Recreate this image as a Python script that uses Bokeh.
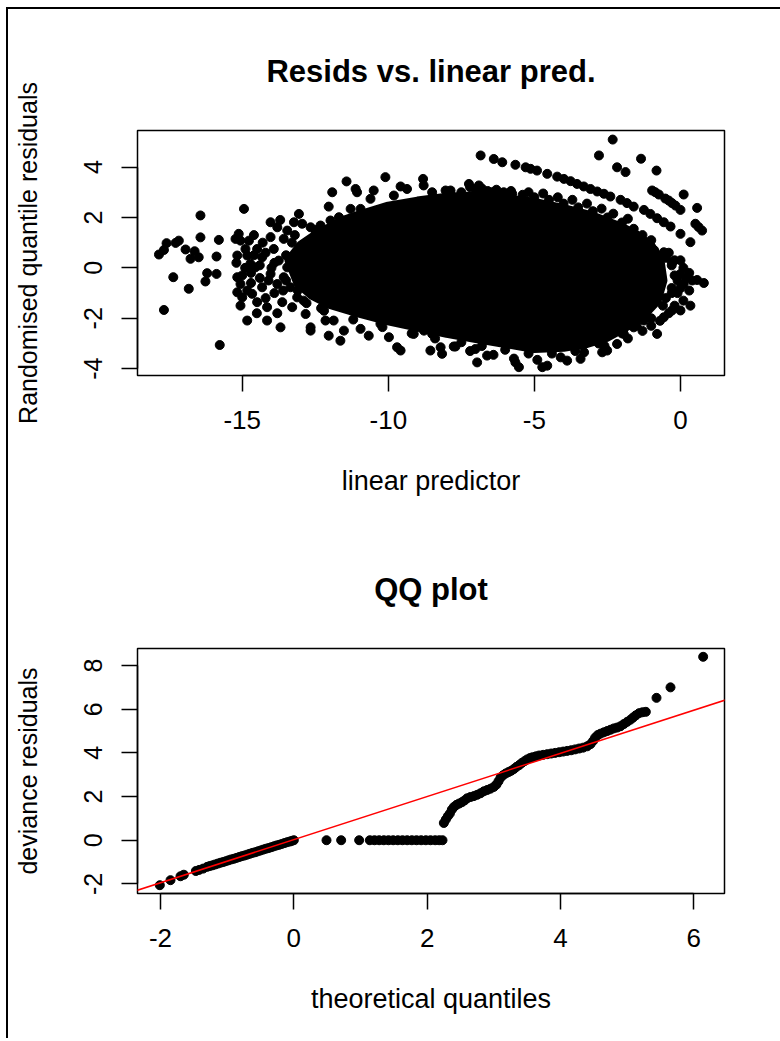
from bokeh.plotting import figure
from bokeh.models import Range1d, FixedTicker, Slope, PrintfTickFormatter, Div
from bokeh.layouts import column
from bokeh.embed import file_html
from bokeh.resources import INLINE

FONT = "Liberation Sans"

# ---------------- Top panel: residuals vs linear predictor ----------------
# dense core of the point cloud (outline of the solid black region)
core_x = [-13.4, -13.0, -12.5, -12.0, -11.5, -11.0, -10.0, -9.0, -8.0, -7.0, -6.0, -5.0,
          -4.0, -3.0, -2.0, -1.5, -1.0, -0.7, -0.6, -0.8, -1.2, -1.8, -2.5, -3.2, -4.0,
          -5.0, -6.0, -7.0, -8.0, -9.0, -10.0, -11.0, -12.0, -12.6, -13.1]
core_y = [0.3, 0.9, 1.3, 1.6, 1.9, 2.1, 2.45, 2.65, 2.8, 2.85, 2.75, 2.6,
          2.35, 2.05, 1.6, 1.3, 0.85, 0.3, -0.5, -1.3, -1.8, -2.3, -2.75, -3.0, -3.15,
          -3.2, -3.0, -2.8, -2.6, -2.35, -2.1, -1.8, -1.45, -1.1, -0.6]

# individual points outside / on the edge of the core
pts_x = [
    -17.85, -17.68, -17.59, -17.28, -17.17, -16.94, -16.77, -16.63, -16.49, -16.43, -16.43,
    -15.80, -15.88, -17.36, -16.83, -16.26, -16.20, -15.88, -17.68, -15.77,
    -14.94, -15.23, -15.12, -15.06, -15.17, -14.89, -14.77, -14.83, -14.72, -14.49, -14.32,
    -14.55, -15.17, -15.06, -15.17, -15.00, -15.06, -14.83, -14.66, -14.49, -14.32, -14.15,
    -14.83, -14.15, -13.69, -14.03, -13.80, -14.03, -13.58, -13.46, -13.23, -13.06, -12.95,
    -13.92, -13.75, -13.46, -14.03, -13.80, -13.58, -13.35, -13.29, -13.63,
    -14.60, -14.40, -14.20, -14.10, -13.90, -14.40, -14.70, -14.90, -14.30, -14.60, -13.70,
    -13.90, -13.60, -14.20, -14.00, -13.80, -14.50, -15.20, -15.00, -14.70,
    -12.66, -12.32, -12.04, -11.92, -11.98, -11.69, -11.43, -11.29, -11.12, -11.07, -10.95,
    -10.61, -10.50, -10.10, -9.81, -9.58, -9.36, -9.24, -8.81, -8.79, -8.50, -8.04, -7.87,
    -13.12, -12.83, -12.66, -12.66, -12.15, -12.04, -11.87, -11.64, -11.52, -10.95, -10.67,
    -10.27, -9.98, -9.70, -9.58, -9.13, -8.78, -8.50, -8.56, -8.21, -8.16, -7.70,
    -6.84, -6.39, -6.10, -5.65, -5.30, -5.13, -4.91, -4.56, -4.22, -3.99, -3.76, -3.54,
    -3.31, -3.08, -2.85, -2.62, -2.40, -2.05, -1.83, -1.60, -1.25, -1.03, -0.80, -0.57,
    -0.34, 0.00, 0.34,
    -2.79, -2.32, -2.17, -1.88, -1.35, -0.82, -0.97, -0.86, -0.74, -0.52, -0.40, -0.29,
    -0.17, 0.00, 0.11, 0.57, 0.51, 0.62, 0.74,
    -1.03, -0.57, -0.29, 0.00, 0.11, 0.57, 0.80, 0.34, 0.00, -0.29, -0.57, -0.80, -1.25,
    -1.60, -1.94, -2.17, -2.51, -2.68, -3.42, -3.88, -4.56, -4.73, -5.53, -5.65, -6.62,
    -6.96, -7.02, -7.76,
    -7.24, -6.90, -6.45, -6.05, -5.76, -7.64, -7.87,
    -7.50, -7.00, -6.60, -6.20, -5.40, -5.00, -4.50, -4.00, -3.50, -3.00, -2.50, -2.00,
    -1.60, -1.30, -1.00,
    -1.00, -1.50, -2.00, -2.80, -3.60, -4.40, -5.20, -6.00, -6.80, -7.50, -8.40, -9.20,
    -10.20, -11.20, -12.20, -12.90,
    -0.50, -0.30, -0.20, -0.30, -0.50, -0.10, 0.20, 0.40, -0.60, 0.00,
    -1.20, -0.90, -0.60, -0.40, -0.20, 0.10, -0.10, 0.30, 0.10, -0.20, -0.40, -0.70,
    -1.00, -0.30, 0.00, 0.30,
    -7.20, -6.80, -6.30, -5.80, -5.20, -4.70, -4.20, -3.70, -3.20, -2.70, -2.30, -1.80,
    -7.20, -6.40, -5.70, -4.90, -4.10, -3.30, -2.60, -1.80, -1.30,
    -13.30, -13.10, -12.80, -12.50, -12.30, -13.50, -13.50, -13.20,
]
pts_y = [
    0.53, 0.71, 0.98, 0.99, 1.08, 0.73, 0.36, 0.66, 0.42, 2.08, 1.21,
    1.11, 0.45, -0.37, -0.83, -0.54, -0.21, -0.24, -1.67, -3.06,
    2.34, 1.15, 1.35, 1.08, 0.49, 0.75, 1.08, 0.49, 0.16, 0.75, 0.42,
    0.02, -0.37, -0.64, -0.97, -1.17, -1.50, -0.90, -1.03, -1.36, -0.77, -1.56,
    -2.09, -2.09, -2.36, 1.81, 1.61, 1.22, 1.15, 1.48, 1.81, 2.14, 1.75,
    0.75, 0.29, 0.02, -0.24, -0.64, -0.37, -0.77, -1.56, -1.36,
    0.50, 0.10, 0.60, -0.50, -1.00, -0.40, -0.60, 0.00, 1.00, 1.30, 1.90,
    0.20, -0.90, -1.20, 0.00, -1.80, -1.80, 0.20, -0.30, -0.20,
    1.61, 1.68, 2.43, 3.00, 1.88, 2.01, 3.43, 2.34, 3.13, 3.00, 2.34,
    2.74, 3.07, 3.60, 2.87, 3.23, 3.13, 2.34, 3.53, 3.27, 3.00, 3.07, 2.94,
    -1.17, -1.83, -2.36, -2.49, -2.09, -2.69, -2.09, -2.89, -2.49, -2.42, -2.69,
    -2.22, -2.75, -3.15, -3.28, -2.62, -2.49, -2.62, -3.28, -3.15, -3.41, -3.12,
    4.46, 4.32, 4.19, 4.09, 3.99, 3.93, 3.86, 3.73, 3.62, 3.53, 3.44, 3.33,
    3.23, 3.13, 3.03, 2.94, 2.83, 2.70, 2.57, 2.43, 2.30, 2.14, 1.97, 1.81,
    1.64, 1.35, 1.02,
    4.46, 5.09, 3.99, 3.80, 4.33, 3.86, 3.07, 3.00, 2.91, 2.75, 2.67, 2.57,
    2.47, 2.30, 2.91, 2.38, 1.75, 1.62, 1.48,
    0.88, 0.62, 0.22, -0.24, -0.64, -0.48, -0.60, -1.50, -1.69, -1.69, -1.96, -2.62, -2.09,
    -2.36, -2.62, -3.02, -3.28, -3.35, -3.61, -3.68, -3.88, -3.94, -3.94, -3.75, -3.48,
    -3.75, -3.22, -3.12,
    3.33, 3.27, 3.00, 3.00, 2.94, 2.74, 3.07,
    3.00, 3.10, 3.05, 2.95, 2.90, 2.80, 2.70, 2.55, 2.40, 2.25, 2.00, 1.80,
    1.55, 1.30, 1.10,
    -2.00, -2.30, -2.60, -3.00, -3.30, -3.40, -3.40, -3.25, -3.10, -2.95, -2.80, -2.60,
    -2.35, -2.05, -1.70, -1.30,
    0.40, 0.10, -0.30, -0.80, -1.20, -1.00, -0.40, -0.50, -1.50, -0.80,
    1.00, 0.70, 0.50, 0.60, 0.30, 0.00, -0.50, -0.90, -1.30, -1.50, -1.80, -2.10,
    -2.30, -1.00, 0.30, -0.20,
    3.20, 3.15, 3.10, 3.05, 3.00, 2.95, 2.80, 2.70, 2.55, 2.35, 2.15, 1.95,
    -3.30, -3.45, -3.60, -3.65, -3.55, -3.35, -3.10, -2.80, -2.50,
    1.00, -0.90, -1.40, 1.50, -1.60, 0.50, -0.50, 1.30,
]

top_xticks = [-15, -10, -5, 0]
top_yticks = [-4, -2, 0, 2, 4]

# ---------------- Bottom panel: QQ plot ----------------
qq_x = [-2.01, -1.85, -1.70, -1.65, -1.47, -1.42, -1.36,
        -1.30, -1.26, -1.22, -1.18, -1.14, -1.10, -1.06, -1.02, -0.98, -0.94, -0.90, -0.86,
        -0.82, -0.78, -0.74, -0.70, -0.66, -0.62, -0.58, -0.54, -0.50, -0.46, -0.42, -0.38,
        -0.34, -0.30, -0.26, -0.22, -0.18, -0.14, -0.10, -0.06, -0.03, 0.00,
        0.49, 0.71, 0.98, 1.14, 1.21, 1.28, 1.35, 1.42, 1.49, 1.56, 1.63, 1.70, 1.77, 1.84,
        1.91, 1.98, 2.05, 2.12, 2.18, 2.23,
        2.25, 2.28, 2.31, 2.34, 2.37, 2.40, 2.44, 2.48, 2.52, 2.56, 2.60, 2.65, 2.70, 2.75,
        2.80, 2.85, 2.90, 2.95, 3.00, 3.04, 3.07, 3.10, 3.14, 3.18, 3.22, 3.26, 3.30, 3.34,
        3.38, 3.42, 3.46, 3.50, 3.54, 3.58, 3.63, 3.68, 3.74, 3.80, 3.86, 3.92, 3.98, 4.04,
        4.10, 4.16, 4.22, 4.28, 4.34, 4.40, 4.45, 4.49, 4.52, 4.56, 4.60, 4.65, 4.70, 4.75,
        4.80, 4.85, 4.90, 4.95, 5.00, 5.05, 5.09, 5.13, 5.18, 5.23, 5.28, 5.44, 5.65, 6.14]
qq_y = [-2.06, -1.83, -1.65, -1.58, -1.41, -1.36, -1.30,
        -1.22, -1.18, -1.15, -1.11, -1.07, -1.03, -1.00, -0.96, -0.92, -0.88, -0.85, -0.81,
        -0.77, -0.73, -0.70, -0.66, -0.62, -0.58, -0.55, -0.51, -0.47, -0.43, -0.39, -0.36,
        -0.32, -0.28, -0.24, -0.21, -0.17, -0.13, -0.09, -0.06, -0.03, 0.00,
        0.0, 0.0, 0.0, 0.0, 0.0, 0.0, 0.0, 0.0, 0.0, 0.0, 0.0, 0.0, 0.0, 0.0,
        0.0, 0.0, 0.0, 0.0, 0.0, 0.0,
        0.79, 0.95, 1.10, 1.22, 1.40, 1.52, 1.62, 1.68, 1.74, 1.82, 1.92, 1.98, 2.02, 2.08,
        2.15, 2.24, 2.30, 2.36, 2.44, 2.55, 2.70, 2.86, 2.98, 3.06, 3.12, 3.18, 3.26, 3.36,
        3.44, 3.54, 3.62, 3.70, 3.76, 3.80, 3.84, 3.88, 3.91, 3.94, 3.97, 4.00, 4.03, 4.06,
        4.09, 4.12, 4.16, 4.20, 4.24, 4.30, 4.40, 4.55, 4.70, 4.82, 4.88, 4.94, 5.00, 5.06,
        5.12, 5.16, 5.22, 5.32, 5.42, 5.52, 5.62, 5.72, 5.82, 5.86, 5.88, 6.52, 7.00, 8.40]
qq_line_intercept = 0.027
qq_line_slope = 0.988

qq_xticks = [-2, 0, 2, 4, 6]
qq_yticks = [-2, 0, 2, 4, 6, 8]

W = 772


def style(p, xticks, yticks, xlabel, ylabel):
    p.grid.visible = False
    p.background_fill_color = "white"
    p.border_fill_color = "white"
    p.outline_line_color = "black"
    p.outline_line_width = 1.5
    p.title.align = "center"
    p.title.text_font = FONT
    p.title.text_font_size = "31px"
    p.title.text_font_style = "bold"
    p.title.text_color = "black"
    p.title.standoff = 83
    for ax, ticks in ((p.xaxis[0], xticks), (p.yaxis[0], yticks)):
        ax.ticker = FixedTicker(ticks=ticks)
        ax.formatter = PrintfTickFormatter(format="%d")
        ax.bounds = (min(ticks), max(ticks))
        ax.axis_line_width = 1.5
        ax.axis_line_color = "black"
        ax.major_tick_line_width = 1.5
        ax.major_tick_line_color = "black"
        ax.major_tick_out = 16
        ax.major_tick_in = 0
        ax.minor_tick_line_color = None
        ax.major_label_text_font = FONT
        ax.major_label_text_color = "black"
        ax.major_label_standoff = 19
        ax.axis_label_text_font = FONT
        ax.axis_label_text_font_style = "normal"
        ax.axis_label_text_color = "black"
    xa, ya = p.xaxis[0], p.yaxis[0]
    xa.axis_label = xlabel
    ya.axis_label = ylabel
    xa.major_label_text_font_size = "26px"
    ya.major_label_text_font_size = "25px"
    xa.axis_label_text_font_size = "27px"
    ya.axis_label_text_font_size = "25px"
    xa.axis_label_standoff = 34
    ya.axis_label_standoff = 40
    ya.major_label_orientation = "vertical"


top_rule = Div(width=W, height=2, margin=0, styles={"background-color": "black"})

p1 = figure(width=W, height=509, output_backend="svg", toolbar_location=None,
            title="Resids vs. linear pred.",
            x_range=Range1d(-18.585, 1.507), y_range=Range1d(-4.27, 5.45),
            min_border_left=129, min_border_right=56, min_border_top=121, min_border_bottom=143)
style(p1, top_xticks, top_yticks, "linear predictor", "Randomised quantile residuals")
p1.patch(core_x, core_y, fill_color="black", line_color="black", line_width=9, line_join="round")
p1.scatter(pts_x, pts_y, marker="circle", size=9, fill_color="black", line_color="black")

p2 = figure(width=W, height=520, output_backend="svg", toolbar_location=None,
            title="QQ plot",
            x_range=Range1d(-2.345, 6.46), y_range=Range1d(-2.44, 8.78),
            min_border_left=129, min_border_right=56, min_border_top=130, min_border_bottom=145)
style(p2, qq_xticks, qq_yticks, "theoretical quantiles", "deviance residuals")
p2.scatter(qq_x, qq_y, marker="circle", size=9, fill_color="black", line_color="black")
p2.add_layout(Slope(gradient=qq_line_slope, y_intercept=qq_line_intercept,
                    line_color="red", line_width=1.5))

layout = column(top_rule, p1, p2, spacing=0,
                styles={"border-left": "2px solid black", "margin-left": "6px", "margin-top": "7px"})

open("out.html", "w").write(file_html(layout, INLINE))
